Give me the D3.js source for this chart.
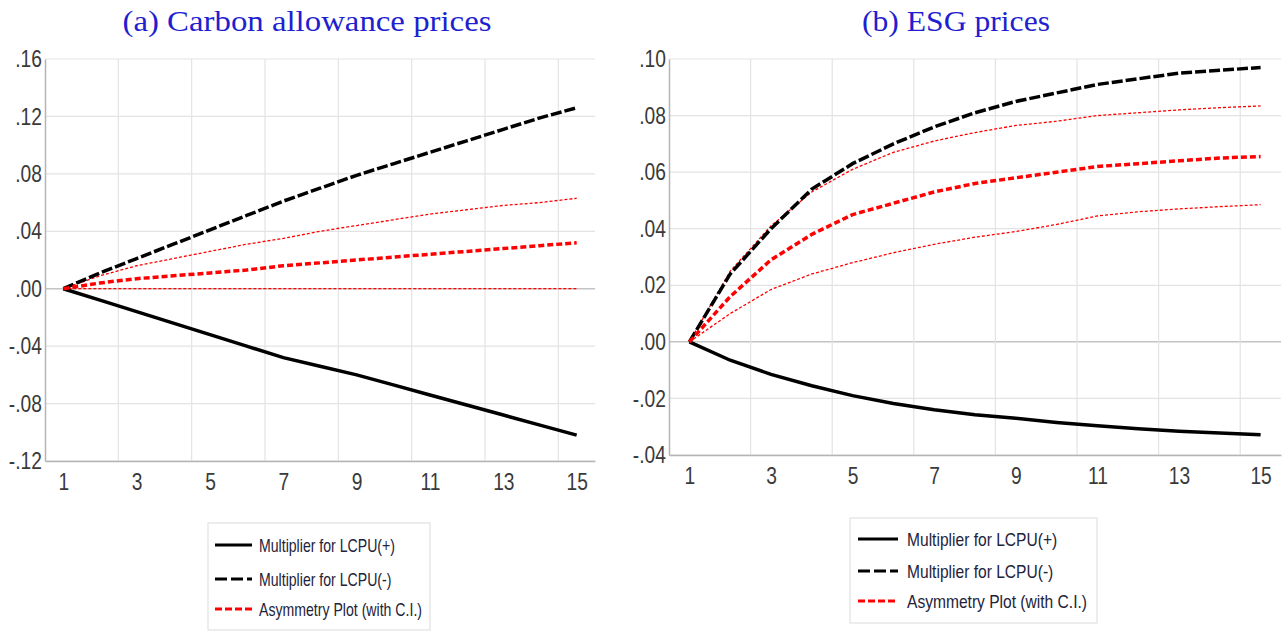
<!DOCTYPE html>
<html>
<head>
<meta charset="utf-8">
<script src="https://cdn.jsdelivr.net/npm/d3@7"></script>
<style>
  body { margin: 0; background: #fff; }
  svg { display: block; }
  .tick text { font-family: Arial, "Liberation Sans", Helvetica, sans-serif; fill: #3a3a3a; }
</style>
</head>
<body>
<div id="chart"></div>
<script>
// horizon (periods)
var periods = d3.range(1, 16);
var xTicks = [1, 3, 5, 7, 9, 11, 13, 15];

// (a) carbon allowance prices
var carbonPos   = [0, -0.008, -0.016, -0.024, -0.032, -0.040, -0.048, -0.054, -0.060, -0.067, -0.074, -0.081, -0.088, -0.095, -0.102];
var carbonNeg   = [0, 0.011, 0.021, 0.031, 0.041, 0.051, 0.061, 0.070, 0.079, 0.087, 0.095, 0.103, 0.111, 0.119, 0.126];
var carbonAsym  = [0, 0.004, 0.007, 0.009, 0.011, 0.013, 0.016, 0.018, 0.020, 0.022, 0.024, 0.026, 0.028, 0.030, 0.032];
var carbonUpper = [0, 0.009, 0.016, 0.021, 0.026, 0.031, 0.035, 0.040, 0.044, 0.048, 0.052, 0.055, 0.058, 0.060, 0.063];
var carbonLower = [0, 0, 0, 0, 0, 0, 0, 0, 0, 0, 0, 0, 0, 0, 0];
var carbonTicks = [-0.12, -0.08, -0.04, 0, 0.04, 0.08, 0.12, 0.16];

// (b) ESG prices
var esgPos   = [0, -0.0065, -0.0115, -0.0155, -0.019, -0.0218, -0.024, -0.0258, -0.027, -0.0285, -0.0297, -0.0307, -0.0316, -0.0322, -0.0328];
var esgNeg   = [0, 0.024, 0.040, 0.054, 0.063, 0.070, 0.076, 0.081, 0.085, 0.088, 0.091, 0.093, 0.095, 0.096, 0.097];
var esgAsym  = [0, 0.016, 0.029, 0.038, 0.045, 0.049, 0.053, 0.056, 0.058, 0.060, 0.062, 0.063, 0.064, 0.065, 0.0655];
var esgUpper = [0, 0.025, 0.041, 0.053, 0.061, 0.067, 0.071, 0.074, 0.0765, 0.078, 0.080, 0.081, 0.082, 0.0828, 0.0834];
var esgLower = [0, 0.010, 0.0185, 0.024, 0.028, 0.0315, 0.0345, 0.037, 0.039, 0.0415, 0.0445, 0.046, 0.047, 0.0478, 0.0485];
var esgTicks = [-0.04, -0.02, 0, 0.02, 0.04, 0.06, 0.08, 0.10];

var legendLabels = ["Multiplier for LCPU(+)", "Multiplier for LCPU(-)", "Asymmetry Plot (with C.I.)"];

var width = 1283, height = 632;
var svg = d3.select('#chart').append('svg')
    .attr('width', width)
    .attr('height', height);

// EViews style: ".04", "-.08"
var fmt = v => v === 0 ? '.00' : d3.format('.2f')(v).replace('\u2212', '-').replace('0.', '.');

var styles = {
    pos:   { stroke: '#000', width: 3.5, dash: null },
    neg:   { stroke: '#000', width: 3.5, dash: '11,3' },
    asym:  { stroke: '#ff0000', width: 3.5, dash: '6,3' },
    ci:    { stroke: '#ff0000', width: 1.3, dash: '3,2' }
};

function panel(cfg) {
    var g = svg.append('g');

    var x = d3.scaleLinear().domain([0.5, 15.5]).range([cfg.left, cfg.right]);
    var y = d3.scaleLinear().domain(cfg.domain).range([cfg.bottom, cfg.top]);

    // grid
    g.append('g').selectAll('line.h')
        .data(cfg.ticks)
        .join('line')
        .attr('x1', cfg.left).attr('x2', cfg.right)
        .attr('y1', d => y(d)).attr('y2', d => y(d))
        .attr('stroke', d => d === 0 ? '#c4c4c4' : '#e3e3e3')
        .attr('stroke-width', d => d === 0 ? 1.5 : 1.2);

    g.append('g').selectAll('line.v')
        .data(d3.range(2.5, 15, 2))
        .join('line')
        .attr('x1', d => x(d)).attr('x2', d => x(d))
        .attr('y1', cfg.top).attr('y2', cfg.bottom)
        .attr('stroke', '#e3e3e3')
        .attr('stroke-width', 1.2);

    // axes
    var yAxis = g.append('g')
        .attr('transform', `translate(${cfg.left},0)`)
        .attr('font-size', 24)
        .call(d3.axisLeft(y).tickValues(cfg.ticks).tickFormat(fmt).tickSize(0).tickPadding(4));
    yAxis.attr('font-size', 24);
    yAxis.select('.domain').attr('stroke', '#b5b5b5').attr('stroke-width', 1.5);
    yAxis.selectAll('text')
        .attr('transform', 'scale(0.8,1)');

    var xAxis = g.append('g')
        .attr('transform', `translate(0,${cfg.bottom})`)
        .call(d3.axisBottom(x).tickValues(xTicks).tickFormat(d3.format('d')).tickSize(0).tickPadding(cfg.xpad));
    xAxis.attr('font-size', 24);
    xAxis.select('.domain').attr('stroke', '#b5b5b5').attr('stroke-width', 1.5);
    xAxis.selectAll('text')
        .attr('transform', 'scale(0.8,1)');

    var line = d3.line()
        .x((d, i) => x(periods[i]))
        .y(d => y(d));

    var series = [
        { v: cfg.lower, s: styles.ci },
        { v: cfg.upper, s: styles.ci },
        { v: cfg.pos, s: styles.pos },
        { v: cfg.neg, s: styles.neg },
        { v: cfg.asym, s: styles.asym }
    ];

    g.append('g').selectAll('path')
        .data(series)
        .join('path')
        .attr('d', d => line(d.v))
        .attr('fill', 'none')
        .attr('stroke', d => d.s.stroke)
        .attr('stroke-width', d => d.s.width)
        .attr('stroke-dasharray', d => d.s.dash);

    // title
    svg.append('text')
        .attr('x', cfg.titleX).attr('y', 31)
        .attr('text-anchor', 'middle')
        .attr('textLength', cfg.titleW)
        .attr('lengthAdjust', 'spacingAndGlyphs')
        .style('font-family', '"Times New Roman", "Liberation Serif", Times, serif')
        .style('font-size', '29px')
        .style('fill', '#1f1fd0')
        .text(cfg.title);

    // legend
    var lg = svg.append('g').attr('transform', `translate(${cfg.legX},${cfg.legY})`);
    lg.append('rect')
        .attr('width', cfg.legW).attr('height', cfg.legH)
        .attr('fill', '#fff')
        .attr('stroke', '#e2e2e2')
        .attr('stroke-width', 1.2);

    var legStyles = [styles.pos, styles.neg, styles.asym];
    var rows = lg.selectAll('g.row')
        .data(legendLabels)
        .join('g')
        .attr('transform', (d, i) => `translate(0,${cfg.rowY[i]})`);

    rows.append('line')
        .attr('x1', cfg.sampleX).attr('x2', cfg.sampleX + cfg.sampleW)
        .attr('stroke', (d, i) => legStyles[i].stroke)
        .attr('stroke-width', 3)
        .attr('stroke-dasharray', (d, i) => i === 0 ? null : (i === 1 ? '12,4' : '7,3'));

    var labels = rows.append('text')
        .attr('x', cfg.textX)
        .attr('dy', '0.35em')
        .style('font-family', 'Arial, "Liberation Sans", sans-serif')
        .style('font-size', '19px')
        .style('fill', '#23233a')
        .text(d => d);

    // squeeze the legend text to the narrow look of the original
    var widths = labels.nodes().map(n => n.getComputedTextLength());
    var k = cfg.legTextW / widths[2];
    labels.attr('textLength', (d, i) => widths[i] * k)
        .attr('lengthAdjust', 'spacingAndGlyphs');
}

panel({
    title: '(a) Carbon allowance prices', titleX: 307, titleW: 369,
    left: 45, right: 595, top: 59, bottom: 461, xpad: 12,
    domain: [-0.12, 0.16], ticks: carbonTicks,
    pos: carbonPos, neg: carbonNeg, asym: carbonAsym, upper: carbonUpper, lower: carbonLower,
    legX: 208, legY: 523, legW: 222, legH: 107,
    rowY: [22, 56, 86], sampleX: 7, sampleW: 37, textX: 51, legTextW: 163
});

panel({
    title: '(b) ESG prices', titleX: 956, titleW: 188,
    left: 669, right: 1281, top: 59, bottom: 455, xpad: 12,
    domain: [-0.04, 0.10], ticks: esgTicks,
    pos: esgPos, neg: esgNeg, asym: esgAsym, upper: esgUpper, lower: esgLower,
    legX: 850, legY: 518, legW: 247, legH: 105,
    rowY: [21, 53, 83], sampleX: 8, sampleW: 40, textX: 57, legTextW: 180
});
</script>
</body>
</html>
